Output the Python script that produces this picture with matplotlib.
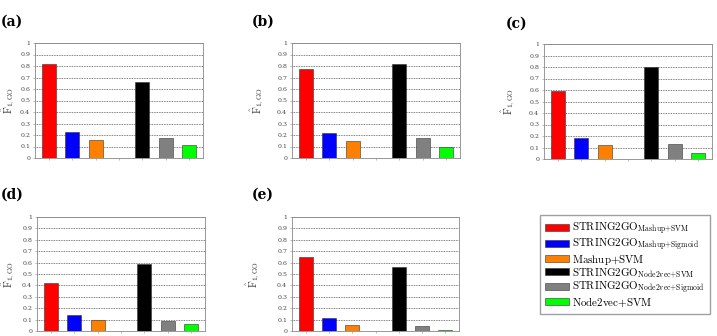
import matplotlib
matplotlib.use("Agg")
import matplotlib.pyplot as plt
from matplotlib.patches import Patch

plt.rcParams['mathtext.fontset'] = 'cm'
plt.rcParams['font.family'] = ['DejaVu Serif']

methods = [r'$\mathrm{STRING2GO}_{\mathrm{Mashup{+}SVM}}$',
           r'$\mathrm{STRING2GO}_{\mathrm{Mashup{+}Sigmoid}}$',
           r'$\mathrm{Mashup{+}SVM}$',
           r'$\mathrm{STRING2GO}_{\mathrm{Node2vec{+}SVM}}$',
           r'$\mathrm{STRING2GO}_{\mathrm{Node2vec{+}Sigmoid}}$',
           r'$\mathrm{Node2vec{+}SVM}$']
colors = ['#ff0000', '#0000ff', '#ff8000', '#000000', '#808080', '#00ff00']
positions = [1, 2, 3, 5, 6, 7]

panel_a = [0.82, 0.23, 0.16, 0.66, 0.17, 0.11]
panel_b = [0.77, 0.22, 0.15, 0.82, 0.17, 0.10]
panel_c = [0.59, 0.18, 0.12, 0.80, 0.13, 0.05]
panel_d = [0.42, 0.14, 0.10, 0.59, 0.09, 0.06]
panel_e = [0.65, 0.11, 0.05, 0.56, 0.04, 0.01]
panel_labels = ['(a)', '(b)', '(c)', '(d)', '(e)']
panels = [panel_a, panel_b, panel_c, panel_d, panel_e]

W, H = 717, 336
fig = plt.figure(figsize=(W / 100, H / 100), dpi=100)

# axes boxes in pixels: left, top, right, bottom
boxes = [(35, 43, 203, 158), (292, 43, 460, 158), (544, 44, 712, 159),
         (37, 217, 205, 331), (292, 217, 459, 331)]
title_pos = [(1, 22), (252, 22), (506, 24), (1, 195), (252, 195)]
ylabel_x = [-0.11, -0.155, -0.16, -0.12, -0.18]

for vals, lab, box, tp, yx in zip(panels, panel_labels, boxes, title_pos, ylabel_x):
    l, t, r, b = box
    ax = fig.add_axes([l / W, 1 - b / H, (r - l) / W, (b - t) / H])
    ax.bar(positions, vals, width=0.6, color=colors, edgecolor='#333333',
           linewidth=0.4, zorder=3)
    ax.set_xlim(0.4, 7.6)
    ax.set_ylim(0, 1)
    ax.set_yticks([i / 10 for i in range(11)])
    ax.set_yticklabels(['0'] + ['%.1f' % (i / 10) for i in range(1, 10)] + ['1'],
                       fontsize=4.5, color='#444444')
    ax.set_xticks(range(1, 8))
    ax.set_xticklabels([])
    ax.tick_params(axis='both', length=1.5, width=0.4, color='#888888', pad=2)
    ax.yaxis.grid(True, linestyle=(0, (1, 1)), color='#555555', linewidth=0.6, zorder=0)
    for s in ax.spines.values():
        s.set_color('#888888')
        s.set_linewidth(0.6)
    ax.set_ylabel(r'$\hat{\mathrm{F}}_{1,\mathrm{GO}}$', fontsize=7.5, color='#333333')
    ax.yaxis.set_label_coords(yx, 0.5)
    fig.text(tp[0] / W, 1 - tp[1] / H, lab, fontsize=10, fontweight='bold',
             family='DejaVu Serif', va='center', ha='left')

handles = [Patch(facecolor=c, edgecolor='#333333', linewidth=0.4) for c in colors]
fig.legend(handles, methods, loc='upper left',
           bbox_to_anchor=(540 / W, 1 - 215 / H), fontsize=7.9,
           frameon=True, fancybox=False, edgecolor='#888888',
           handlelength=2.1, handleheight=0.6, handletextpad=0.35,
           labelspacing=-0.04, borderpad=0.5, borderaxespad=0)

fig.savefig('out.png', dpi=100)
